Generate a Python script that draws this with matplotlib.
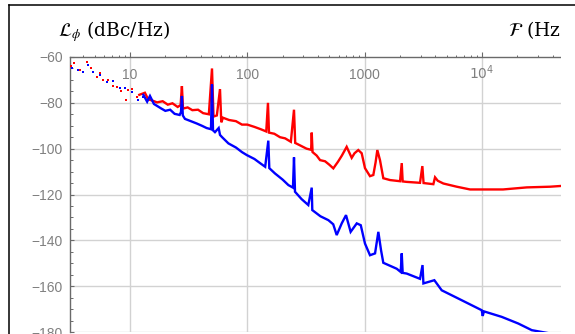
"""
plot.py
=======
Phase-noise spectrum L_phi(F) of two oscillators, Mathematica-style
log-linear plot (axes crossing at the top-left corner).
"""

import numpy as np
import matplotlib
matplotlib.use("Agg")
import matplotlib.pyplot as plt
import matplotlib.ticker as mticker
from matplotlib.lines import Line2D
from matplotlib.patches import Rectangle

# ─────────────────────────────────────────────────────────────
# Data
# ─────────────────────────────────────────────────────────────

# low-frequency points, drawn as isolated dots
red_sparse_f  = [3.12, 3.33, 3.75, 4.30, 4.62, 5.20, 5.55, 5.89, 6.49, 7.16,
                 7.74, 8.33, 9.19, 9.61, 10.3, 11.4]
red_sparse_db = [-63.8, -62.5, -65.7, -62.2, -64.8, -68.7, -66.9, -70.0, -70.0, -72.7,
                 -73.1, -74.7, -78.8, -74.4, -74.0, -77.3]

blue_sparse_f  = [3.18, 3.58, 3.95, 4.41, 4.86, 5.55, 6.32, 7.21, 8.22, 9.06,
                  10.3, 11.8, 13.0]
blue_sparse_db = [-64.9, -65.7, -66.4, -63.5, -66.4, -67.9, -70.8, -70.3, -73.7, -73.7,
                  -75.1, -78.8, -77.3]

# dense part of the spectrum, drawn as a trace
red_f = [12.0, 13.4, 14.3, 15.5, 17.0, 19.0, 21.0, 23.0, 25.5, 27.0,
         27.7, 28.3, 31.0, 34.0, 38.0, 42.0, 47.0, 50.0, 51.5, 55.0,
         58.5, 60.0, 62.0, 70.0, 80.0, 90.0, 100, 115, 130, 145,
         150, 153, 170, 190, 210, 235, 250, 256, 280, 320,
         350, 354, 360, 390, 417, 460, 500, 541, 560, 593,
         640, 703, 776, 820, 883, 944, 1007, 1111, 1186, 1240,
         1283, 1352, 1443, 1647, 2004, 2072, 2110, 2285, 2966, 3105,
         3180, 3854, 3983, 4200, 4690, 6100, 7920, 9960, 15130, 24100,
         38100, 46400]
red_db = [-76.5, -75.6, -78.5, -79.0, -79.8, -79.3, -80.8, -80.2, -81.8, -81.0,
          -72.7, -82.5, -82.0, -83.2, -83.0, -84.5, -85.0, -65.0, -86.0, -85.5,
          -74.0, -88.5, -86.5, -87.5, -88.0, -89.5, -89.5, -90.5, -91.5, -92.5,
          -80.0, -93.0, -93.5, -95.0, -95.5, -97.0, -83.0, -97.5, -98.5, -100.0,
          -100.5, -93.0, -101.5, -103.0, -105.0, -105.5, -107.0, -108.6, -107.5, -105.7,
          -103.0, -99.2, -104.0, -102.0, -100.6, -102.0, -108.5, -112.0, -111.5, -106.0,
          -100.6, -105.0, -112.9, -113.7, -114.2, -106.3, -114.3, -114.5, -114.9, -107.6,
          -115.0, -115.5, -112.5, -114.0, -115.2, -116.6, -117.8, -117.8, -117.8, -116.9,
          -116.6, -116.3]

blue_f = [13.0, 14.0, 14.8, 16.0, 18.5, 20.0, 22.0, 24.0, 26.5, 27.2,
          27.7, 28.2, 29.4, 33.0, 37.0, 41.0, 45.0, 49.0, 50.0, 51.0,
          53.0, 57.0, 58.5, 61.0, 69.0, 80.0, 90.0, 99.0, 115, 130,
          142, 151, 154, 172, 200, 224, 245, 250, 255, 290,
          331, 354, 358, 420, 491, 540, 578, 638, 694, 760,
          857, 927, 1007, 1111, 1227, 1309, 1380, 1443, 1878, 2030,
          2072, 2110, 2285, 2966, 3116, 3170, 3930, 4540, 6290, 9960,
          10150, 10400, 14750, 20400, 26600, 36800]
blue_db = [-76.5, -79.5, -77.0, -80.5, -82.5, -83.5, -83.0, -84.8, -85.3, -84.0,
           -77.0, -85.5, -87.0, -88.0, -89.0, -90.0, -91.0, -91.5, -72.0, -92.0,
           -92.8, -91.0, -94.0, -95.0, -97.7, -99.5, -101.5, -102.8, -104.5, -106.5,
           -107.9, -96.5, -108.5, -110.8, -113.5, -115.9, -117.0, -103.8, -118.8, -122.0,
           -124.6, -117.0, -126.8, -129.5, -131.2, -133.0, -137.7, -132.6, -129.0, -136.3,
           -132.6, -133.4, -141.4, -146.5, -145.7, -136.3, -144.3, -149.8, -152.4, -153.8,
           -145.7, -154.2, -154.5, -156.8, -150.8, -158.8, -157.4, -161.8, -165.4, -170.5,
           -173.0, -171.0, -173.4, -176.3, -179.2, -180.5]

DECADES   = [10, 100, 1000, 10000]
DEC_LBL   = ["10", "100", "1000", r"$10^{4}$"]
Y_MAJOR   = [-60, -80, -100, -120, -140, -160, -180]

RED  = "#ff0000"
BLUE = "#0000ff"
AXIS_GREY = "#6a6a6a"
GRID_GREY = "#d2d2d2"
LABEL_GREY = "#808080"

W, H, DPI = 575, 334, 100
CLIP_X = 561          # the exported graphic ends here, the rest is blank


# ─────────────────────────────────────────────────────────────
# Plot
# ─────────────────────────────────────────────────────────────

def px(x, y):
    """pixel (from top-left) -> figure fraction"""
    return x / W, 1 - y / H


fig = plt.figure(figsize=(W / DPI, H / DPI), dpi=DPI)
left, top = px(70, 57)
right, bottom = px(CLIP_X, 332)
ax = fig.add_axes([left, bottom, right - left, top - bottom])

ax.set_xscale("log")
ax.set_xlim(3.08, 47200)
ax.set_ylim(-180, -60)

# grid below everything
for f in DECADES:
    ax.axvline(f, color=GRID_GREY, lw=1.0, zorder=0)
for yv in Y_MAJOR[1:]:
    ax.axhline(yv, color=GRID_GREY, lw=1.0, zorder=0)

# traces
ax.plot(red_f, red_db, color=RED, lw=1.7, solid_joinstyle="miter", zorder=3)
ax.plot(blue_f, blue_db, color=BLUE, lw=1.7, solid_joinstyle="miter", zorder=3)
ax.plot(red_sparse_f, red_sparse_db, ls="none", marker="s", ms=1.6, mew=0,
        color=RED, zorder=4)
ax.plot(blue_sparse_f, blue_sparse_db, ls="none", marker="s", ms=1.6, mew=0,
        color=BLUE, zorder=4)

# axes: y on the left, x along the top
for side in ("bottom", "right"):
    ax.spines[side].set_visible(False)
for side in ("left", "top"):
    ax.spines[side].set_color(AXIS_GREY)
    ax.spines[side].set_linewidth(1.0)

ax.xaxis.set_major_locator(mticker.FixedLocator(DECADES))
ax.xaxis.set_major_formatter(mticker.FixedFormatter(DEC_LBL))
ax.xaxis.set_minor_locator(mticker.LogLocator(base=10, subs=np.arange(2, 10)))
ax.xaxis.set_minor_formatter(mticker.NullFormatter())
ax.tick_params(axis="x", which="both", top=True, bottom=False,
               labeltop=True, labelbottom=False, direction="out",
               color=AXIS_GREY, labelcolor=LABEL_GREY, labelsize=10)
ax.tick_params(axis="x", which="major", length=3.6, width=0.8, pad=-21.5)
ax.tick_params(axis="x", which="minor", length=1.8, width=0.7)

ax.yaxis.set_major_locator(mticker.FixedLocator(Y_MAJOR))
ax.yaxis.set_minor_locator(mticker.MultipleLocator(5))
ax.tick_params(axis="y", which="both", left=True, right=False, direction="in",
               color=AXIS_GREY, labelcolor=LABEL_GREY, labelsize=10)
ax.tick_params(axis="y", which="major", length=3.2, width=0.8, pad=5)
ax.tick_params(axis="y", which="minor", length=1.8, width=0.7)

for lbl in ax.get_xticklabels() + ax.get_yticklabels():
    lbl.set_fontfamily("Liberation Sans")

# axis labels, Mathematica puts them at the ends of the axes
x0, y0 = px(58, 36)
fig.text(x0, y0, r"$\mathcal{L}_{\phi}$ (dBc/Hz)", fontsize=13.5,
         family="DejaVu Serif", math_fontfamily="stix", va="baseline", zorder=3)
x1, y1 = px(508, 36)
fig.text(x1, y1, r"$\mathcal{F}$ (Hz)", fontsize=13.5,
         family="DejaVu Serif", math_fontfamily="stix", va="baseline", zorder=3)

# the graphic is cut at CLIP_X: blank strip to the right of it
cx, cy = px(CLIP_X, 6)
fig.add_artist(Rectangle((cx, 0), 1 - cx, cy, transform=fig.transFigure,
                         facecolor="white", edgecolor="none", zorder=5))

# outer frame of the exported graphic (only left and top edges are in view)
fx, fy = px(9, 5)
fig.add_artist(Line2D([fx, fx], [0, fy], color="black", lw=1.1, zorder=6))
fig.add_artist(Line2D([fx, 1], [fy, fy], color="black", lw=1.1, zorder=6))

fig.savefig("out.png", dpi=DPI)
print("Saved -> out.png")
